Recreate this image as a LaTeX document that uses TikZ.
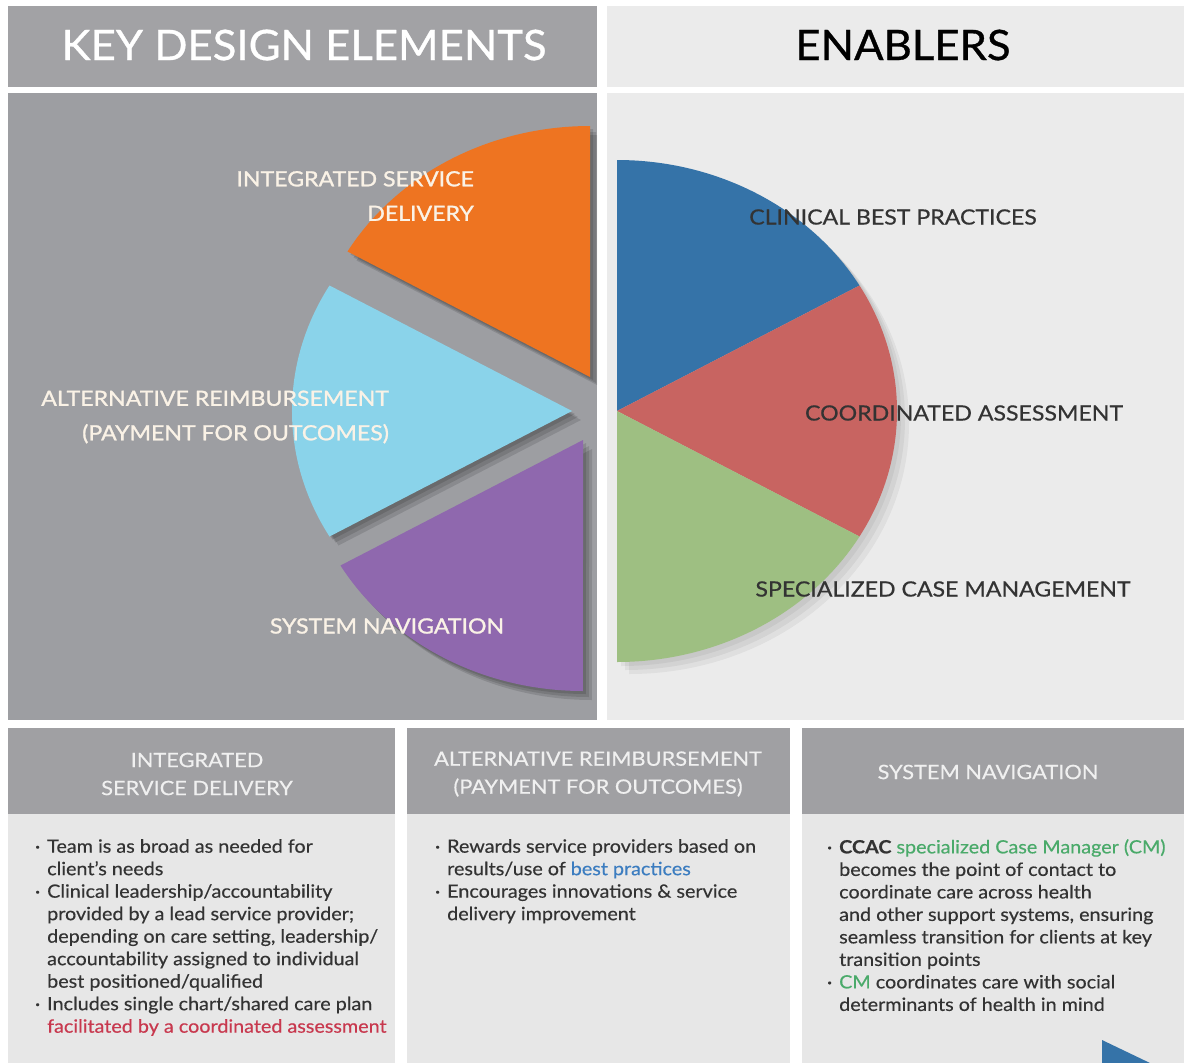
\documentclass[tikz,border=0pt]{standalone}
\usepackage{fontspec}
\setmainfont{Lato}
\newfontfamily\pief[FakeStretch=1.1,FakeBold=1.2]{Lato}
\newfontfamily\enf[FakeStretch=1.1,FakeBold=0.6]{Lato}
\newfontfamily\bodyf[FakeStretch=1.08,FakeBold=0.4]{Lato}
\newfontfamily\boxhf[FakeStretch=1.1,FakeBold=0.4]{Lato}
\newfontfamily\bigf[FakeStretch=1.04,FakeBold=0.8]{Lato}
\definecolor{hdrL}{HTML}{A2A2A5}
\definecolor{hdrR}{HTML}{EBEBEB}
\definecolor{panL}{HTML}{9D9EA2}
\definecolor{panR}{HTML}{EBEBEB}
\definecolor{boxH}{HTML}{A0A0A3}
\definecolor{boxB}{HTML}{E7E7E7}
\definecolor{cOrange}{HTML}{EE7421}
\definecolor{cCyan}{HTML}{8AD3EA}
\definecolor{cPurple}{HTML}{8F68AE}
\definecolor{cBlue}{HTML}{3573A8}
\definecolor{cRed}{HTML}{C86461}
\definecolor{cGreen}{HTML}{9EBF82}
\definecolor{txt}{HTML}{333333}
\definecolor{tRed}{HTML}{C8384E}
\definecolor{tBlue}{HTML}{3C7DC0}
\definecolor{tGreen}{HTML}{4AAA6A}
\definecolor{cream}{HTML}{FAF2E6}
\tikzset{
  pielbl/.style={text=cream, font=\pief\fontsize{21}{34.5}\selectfont, inner sep=0pt},
  enlbl/.style={text=txt, font=\enf\fontsize{21}{34}\selectfont, inner sep=0pt},
  bighdr/.style={font=\bigf\fontsize{42}{46}\selectfont, inner sep=0pt},
  boxhdr/.style={text=white!94!black, font=\boxhf\fontsize{19.8}{28}\selectfont, inner sep=0pt, align=center},
  body/.style={text=txt, font=\bodyf\fontsize{18.3}{22.5}\selectfont, inner sep=0pt, align=left, anchor=north west},
  shade/.style={black, opacity=0.12}
}
\newcommand{\bul}{\llap{\textperiodcentered\hspace{7pt}}}
\begin{document}
\begin{tikzpicture}[x=1pt,y=1pt]
\useasboundingbox (0,0) rectangle (1184,-1063);
\fill[white] (0,0) rectangle (1184,-1063);
% header bars
\fill[hdrL] (8,-6) rectangle (597,-87);
\fill[hdrR] (607,-6) rectangle (1184,-87);
\node[bighdr, text=white] (hkey) at (304,-45) {KEY DESIGN ELEMENTS};
\node[bighdr, text=black] (hen) at (903,-45) {ENABLERS};
% main panels
\fill[panL] (8,-93) rectangle (597,-720);
\fill[panR] (607,-93) rectangle (1184,-720);
% shadows
\begin{scope}
\clip (8,-93) rectangle (597,-720);
\foreach \d in {3,6,9}{
\fill[shade] (590+\d,-377-\d) -- (590+\d,-126-\d) arc[start angle=90,end angle=150,x radius=280,y radius=251] -- cycle;
\fill[shade] (572+\d,-411-\d) -- (329.5+\d,-285.5-\d) arc[start angle=150,end angle=210,x radius=280,y radius=251] -- cycle;
\fill[shade] (583+\d,-440-\d) -- (340.5+\d,-565.5-\d) arc[start angle=210,end angle=270,x radius=280,y radius=251] -- cycle;
}
\end{scope}
\begin{scope}
\clip (607,-93) rectangle (1184,-720);
\foreach \d in {4,8,12}{
\fill[shade, opacity=0.05] (617+\d,-411-\d) -- (617+\d,-160-\d) arc[start angle=90,end angle=-90,x radius=280,y radius=251] -- cycle;
}
\end{scope}
% left exploded slices
\fill[cOrange] (590,-377) -- (590,-126) arc[start angle=90,end angle=150,x radius=280,y radius=251] -- cycle;
\fill[cCyan] (572,-411) -- (329.5,-285.5) arc[start angle=150,end angle=210,x radius=280,y radius=251] -- cycle;
\fill[cPurple] (583,-440) -- (340.5,-565.5) arc[start angle=210,end angle=270,x radius=280,y radius=251] -- cycle;
% right half pie
\fill[cBlue] (617,-411) -- (617,-160) arc[start angle=90,end angle=30,x radius=280,y radius=251] -- cycle;
\fill[cRed] (617,-411) -- (859.5,-285.5) arc[start angle=30,end angle=-30,x radius=280,y radius=251] -- cycle;
\fill[cGreen] (617,-411) -- (859.5,-536.5) arc[start angle=-30,end angle=-90,x radius=280,y radius=251] -- cycle;
% pie labels
\node[pielbl, align=right, anchor=east] (lisd) at (474,-196) {INTEGRATED SERVICE\\DELIVERY};
\node[pielbl, align=right, anchor=east] (lar) at (389,-417) {ALTERNATIVE REIMBURSEMENT\\(PAYMENT FOR OUTCOMES)};
\node[pielbl] (lsn) at (387,-626) {SYSTEM NAVIGATION};
\node[enlbl] (lcbp) at (893,-217) {CLINICAL BEST PRACTICES};
\node[enlbl] (lca) at (964,-413) {COORDINATED ASSESSMENT};
\node[enlbl] (lscm) at (943,-589) {SPECIALIZED CASE MANAGEMENT};
% bottom boxes
\fill[boxB] (8,-728) rectangle (395,-1063);
\fill[boxH] (8,-728) rectangle (395,-814);
\fill[boxB] (407,-728) rectangle (790,-1063);
\fill[boxH] (407,-728) rectangle (790,-814);
\fill[boxB] (802,-728) rectangle (1184,-1063);
\fill[boxH] (802,-728) rectangle (1184,-814);
\node[boxhdr] (b1h) at (197,-774) {INTEGRATED\\SERVICE DELIVERY};
\node[boxhdr] (b2h) at (598,-774) {ALTERNATIVE REIMBURSEMENT\\(PAYMENT FOR OUTCOMES)};
\node[boxhdr] (b3h) at (988,-772) {SYSTEM NAVIGATION};
\node[body] (b1t) at (47,-839) {\bul Team is as broad as needed for\\
client’s needs\\
\bul Clinical leadership/accountability\\
provided by a lead service provider;\\
depending on care setting, leadership/\\
accountability assigned to individual\\
best positioned/qualified\\
\bul Includes single chart/shared care plan\\
\textcolor{tRed}{facilitated by a coordinated assessment}};
\node[body] (b2t) at (447,-839) {\bul Rewards service providers based on\\
results/use of \textcolor{tBlue}{best practices}\\
\bul Encourages innovations \& service\\
delivery improvement};
\node[body] (b3t) at (839,-839) {\bul\textbf{CCAC} \textcolor{tGreen}{specialized Case Manager (CM)}\\
becomes the point of contact to\\
coordinate care across health\\
and other support systems, ensuring\\
seamless transition for clients at key\\
transition points\\
\bul\textcolor{tGreen}{CM} coordinates care with social\\
determinants of health in mind};
% corner triangle
\fill[cBlue] (1102,-1040) -- (1150,-1063) -- (1102,-1063) -- cycle;
\end{tikzpicture}
\end{document}
